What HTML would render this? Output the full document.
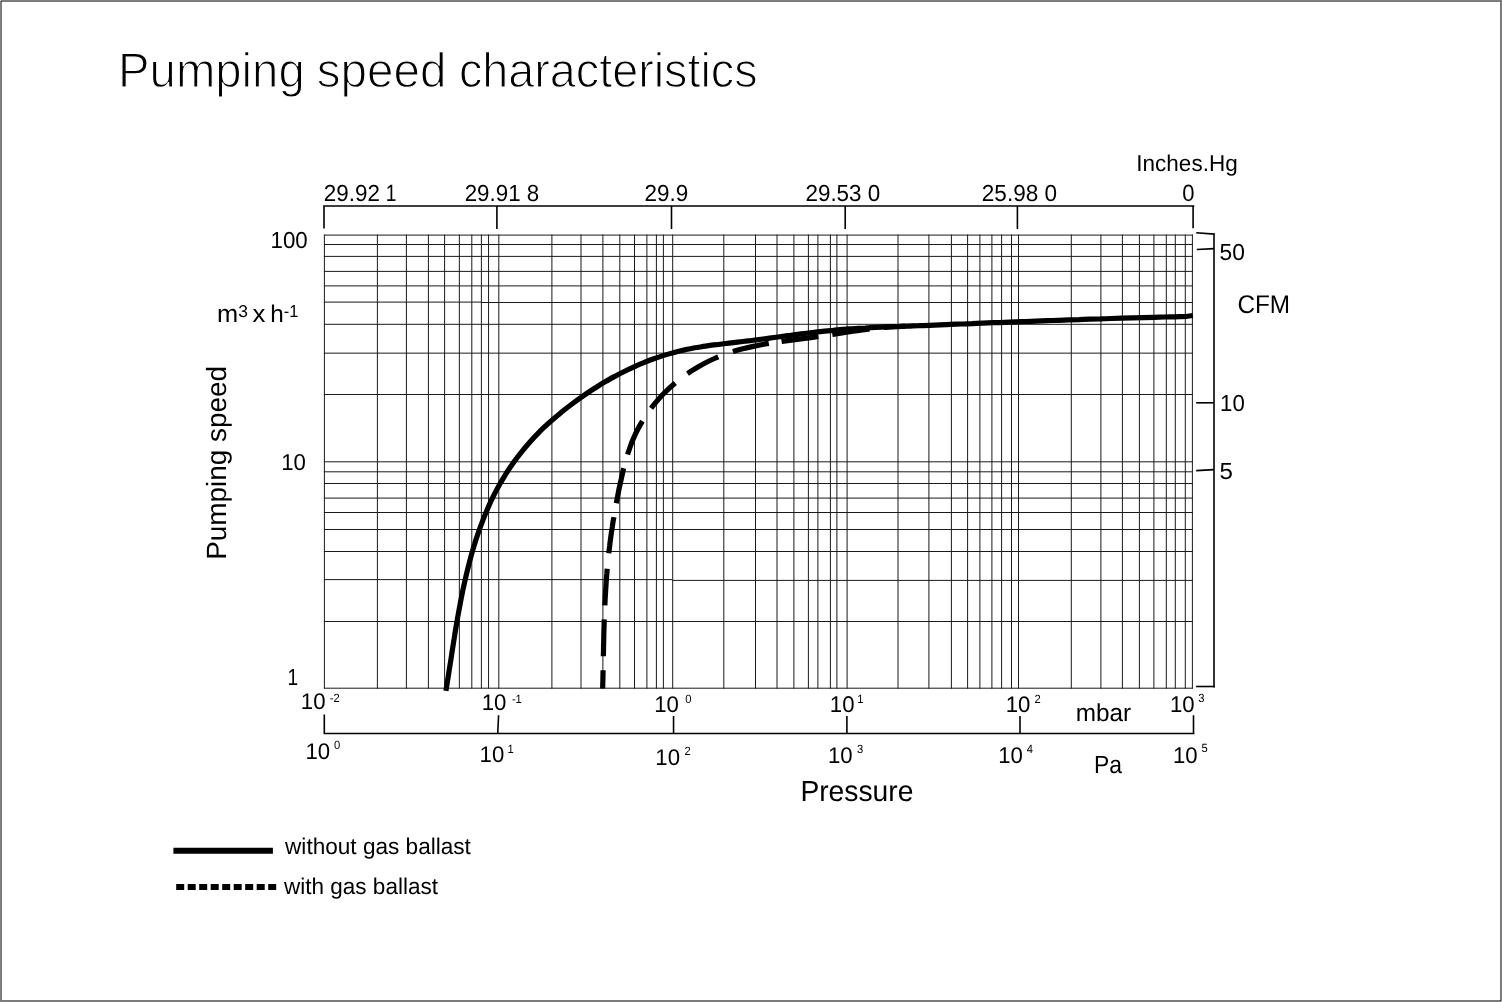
<!DOCTYPE html>
<html lang="en"><head><meta charset="utf-8"><title>Pumping speed characteristics</title>
<style>
html,body{margin:0;padding:0;background:#fff;}
body{width:1502px;height:1002px;overflow:hidden;}
svg{display:block;}
text{font-family:"Liberation Sans",sans-serif;fill:#000;text-rendering:geometricPrecision;}
.g line{stroke:#1a1a1a;stroke-width:1;}
.ax{stroke:#000;stroke-width:1.6;fill:none;}
</style></head><body>
<svg width="1502" height="1002" viewBox="0 0 1502 1002">
<rect x="0" y="0" width="1502" height="1002" fill="#fff"/>
<rect x="0.5" y="0.5" width="1501" height="1001" fill="none" stroke="#808080" stroke-width="1"/>
<rect x="1.5" y="1.5" width="1499" height="999" fill="none" stroke="#797979" stroke-width="1"/>
<rect x="0" y="0" width="1" height="1" fill="#d0d0d0"/><rect x="1" y="1" width="1" height="1" fill="#404040"/>
<rect x="1501" y="1001" width="1" height="1" fill="#d0d0d0"/><rect x="1500" y="1000" width="1" height="1" fill="#404040"/>

<g class="g">
<line x1="324.40" y1="234.60" x2="324.40" y2="688.70"/>
<line x1="377.40" y1="234.60" x2="377.40" y2="688.70"/>
<line x1="406.40" y1="234.60" x2="406.40" y2="688.70"/>
<line x1="428.40" y1="234.60" x2="428.40" y2="688.70"/>
<line x1="444.60" y1="234.60" x2="444.60" y2="688.70"/>
<line x1="459.35" y1="234.60" x2="459.35" y2="688.70"/>
<line x1="471.80" y1="234.60" x2="471.80" y2="688.70"/>
<line x1="481.40" y1="234.60" x2="481.40" y2="688.70"/>
<line x1="488.55" y1="234.60" x2="488.55" y2="688.70"/>
<line x1="498.80" y1="234.60" x2="498.80" y2="688.70"/>
<line x1="551.90" y1="234.60" x2="551.90" y2="688.70"/>
<line x1="581.00" y1="234.60" x2="581.00" y2="688.70"/>
<line x1="602.90" y1="234.60" x2="602.90" y2="688.70"/>
<line x1="619.80" y1="234.60" x2="619.80" y2="688.70"/>
<line x1="634.50" y1="234.60" x2="634.50" y2="688.70"/>
<line x1="646.90" y1="234.60" x2="646.90" y2="688.70"/>
<line x1="656.40" y1="234.60" x2="656.40" y2="688.70"/>
<line x1="663.40" y1="234.60" x2="663.40" y2="688.70"/>
<line x1="672.70" y1="234.60" x2="672.70" y2="688.70"/>
<line x1="723.80" y1="234.60" x2="723.80" y2="688.70"/>
<line x1="755.50" y1="234.60" x2="755.50" y2="688.70"/>
<line x1="777.00" y1="234.60" x2="777.00" y2="688.70"/>
<line x1="793.90" y1="234.60" x2="793.90" y2="688.70"/>
<line x1="808.40" y1="234.60" x2="808.40" y2="688.70"/>
<line x1="817.90" y1="234.60" x2="817.90" y2="688.70"/>
<line x1="830.40" y1="234.60" x2="830.40" y2="688.70"/>
<line x1="836.90" y1="234.60" x2="836.90" y2="688.70"/>
<line x1="847.10" y1="234.60" x2="847.10" y2="688.70"/>
<line x1="898.00" y1="234.60" x2="898.00" y2="688.70"/>
<line x1="928.90" y1="234.60" x2="928.90" y2="688.70"/>
<line x1="951.40" y1="234.60" x2="951.40" y2="688.70"/>
<line x1="967.60" y1="234.60" x2="967.60" y2="688.70"/>
<line x1="979.90" y1="234.60" x2="979.90" y2="688.70"/>
<line x1="991.90" y1="234.60" x2="991.90" y2="688.70"/>
<line x1="1001.60" y1="234.60" x2="1001.60" y2="688.70"/>
<line x1="1011.50" y1="234.60" x2="1011.50" y2="688.70"/>
<line x1="1018.50" y1="234.60" x2="1018.50" y2="688.70"/>
<line x1="1071.30" y1="234.60" x2="1071.30" y2="688.70"/>
<line x1="1100.90" y1="234.60" x2="1100.90" y2="688.70"/>
<line x1="1122.40" y1="234.60" x2="1122.40" y2="688.70"/>
<line x1="1139.40" y1="234.60" x2="1139.40" y2="688.70"/>
<line x1="1153.90" y1="234.60" x2="1153.90" y2="688.70"/>
<line x1="1166.30" y1="234.60" x2="1166.30" y2="688.70"/>
<line x1="1175.30" y1="234.60" x2="1175.30" y2="688.70"/>
<line x1="1185.30" y1="234.60" x2="1185.30" y2="688.70"/>
<line x1="1192.40" y1="234.60" x2="1192.40" y2="688.70"/>
<line x1="323.90" y1="235.10" x2="1192.90" y2="235.10"/>
<line x1="323.90" y1="244.50" x2="1192.90" y2="244.50"/>
<line x1="323.90" y1="256.40" x2="1192.90" y2="256.40"/>
<line x1="323.90" y1="271.40" x2="1192.90" y2="271.40"/>
<line x1="323.90" y1="285.90" x2="1192.90" y2="285.90"/>
<line x1="323.90" y1="324.30" x2="1192.90" y2="324.30"/>
<line x1="323.90" y1="353.15" x2="1192.90" y2="353.15"/>
<line x1="323.90" y1="394.50" x2="1192.90" y2="394.50"/>
<line x1="323.90" y1="461.80" x2="1192.90" y2="461.80"/>
<line x1="323.90" y1="471.80" x2="1192.90" y2="471.80"/>
<line x1="323.90" y1="483.50" x2="1192.90" y2="483.50"/>
<line x1="323.90" y1="498.10" x2="1192.90" y2="498.10"/>
<line x1="323.90" y1="512.50" x2="1192.90" y2="512.50"/>
<line x1="323.90" y1="529.50" x2="1192.90" y2="529.50"/>
<line x1="323.90" y1="551.50" x2="1192.90" y2="551.50"/>
<line x1="323.90" y1="621.50" x2="1192.90" y2="621.50"/>
<line x1="323.90" y1="688.20" x2="1192.90" y2="688.20"/>
<line x1="323.9" y1="302.1" x2="481" y2="302.1"/><line x1="481" y1="302.5" x2="1192.9" y2="302.5"/>
<line x1="323.9" y1="579.6" x2="672" y2="579.6"/><line x1="672" y1="580.4" x2="1192.9" y2="580.4"/>
</g>
<path class="ax" d="M324.0 228.6V206.0H1193.1V228.2M1193.1 206.0h1.2"/>
<path class="ax" d="M496.9 206.0V229"/>
<path class="ax" d="M671.5 206.0V229"/>
<path class="ax" d="M845.2 206.0V229"/>
<path class="ax" d="M1017.4 206.0V229"/>
<path class="ax" d="M324.3 714.4V733.5H1193.5V715.2M1193.5 733.5h1"/>
<path class="ax" d="M498.6 715.2L497.7 733.5"/>
<path class="ax" d="M673.55 716V733.5"/>
<path class="ax" d="M846.9 716V733.5"/>
<path class="ax" d="M1020.0 716V733.5"/>
<path class="ax" stroke-width="1.9" d="M1196.2 232.8L1214.4 234.1"/>
<path class="ax" stroke-width="2" d="M1214.0 233.3V687.4"/>
<path class="ax" stroke-width="1.9" d="M1196.1 686.5H1215.0"/>
<path class="ax" d="M1196.8 249.5L1214.0 248.6"/>
<path class="ax" d="M1196.2 402.8H1214.0"/>
<path class="ax" d="M1196.2 470.6L1214.0 469.6"/>
<path id="dash" d="M602.7 688.6C602.7 687.0 602.8 682.2 602.9 679.1C603.0 675.9 603.0 672.7 603.1 669.5C603.1 666.3 603.2 663.2 603.3 660.0C603.3 656.8 603.4 653.6 603.5 650.4C603.5 647.2 603.6 644.0 603.7 640.8C603.8 637.7 603.8 634.5 603.9 631.3C604.0 628.1 604.1 624.9 604.2 621.7C604.3 618.5 604.4 615.3 604.6 612.2C604.7 609.0 604.8 605.8 605.0 602.6C605.1 599.4 605.3 596.3 605.5 593.1C605.7 589.9 605.9 586.7 606.1 583.5C606.3 580.4 606.5 577.2 606.8 574.0C607.0 570.9 607.3 567.7 607.6 564.5C607.9 561.4 608.2 558.2 608.6 555.1C608.9 551.9 609.3 548.8 609.7 545.6C610.0 542.5 610.5 539.3 610.9 536.2C611.3 533.1 611.8 529.9 612.3 526.8C612.7 523.6 613.2 520.5 613.8 517.4C614.3 514.2 614.8 511.1 615.4 508.0C616.0 504.8 616.6 501.7 617.2 498.5C617.8 495.4 618.4 492.3 619.0 489.1C619.7 486.0 620.4 482.8 621.1 479.7C621.8 476.5 622.5 473.4 623.2 470.2C624.0 467.1 624.8 464.0 625.7 460.9C626.6 457.8 627.5 454.7 628.5 451.7C629.5 448.6 630.6 445.6 631.7 442.6C632.9 439.7 634.2 436.8 635.5 433.9C636.9 431.0 638.3 428.2 639.9 425.4C641.4 422.7 643.0 420.0 644.8 417.3C646.5 414.7 648.3 412.1 650.2 409.5C652.0 407.0 654.0 404.5 656.0 402.1C658.1 399.7 660.2 397.3 662.3 395.0C664.5 392.7 666.8 390.5 669.1 388.3C671.4 386.2 673.8 384.1 676.2 382.1C678.6 380.1 681.2 378.1 683.7 376.2C686.3 374.4 688.9 372.6 691.5 370.9C694.2 369.1 696.9 367.5 699.7 365.9C702.4 364.4 705.2 362.9 708.1 361.5C710.9 360.1 713.8 358.8 716.7 357.5C719.6 356.3 722.6 355.2 725.6 354.1C728.6 353.0 731.6 352.0 734.6 351.1C737.7 350.2 740.7 349.4 743.8 348.6C746.9 347.8 750.0 347.1 753.2 346.4C756.3 345.7 759.5 345.1 762.6 344.5C765.8 343.9 769.0 343.4 772.2 342.9C775.3 342.3 778.5 341.9 781.7 341.4C784.9 340.9 788.1 340.5 791.3 340.1C794.5 339.6 797.7 339.2 800.9 338.8C804.1 338.4 807.3 338.0 810.5 337.6C813.6 337.1 816.8 336.7 820.0 336.2C823.1 335.8 826.2 335.3 829.4 334.9C832.5 334.4 835.6 333.9 838.7 333.4C841.8 332.9 845.0 332.5 848.1 332.0C851.2 331.5 854.3 331.1 857.4 330.6C860.5 330.2 863.6 329.7 866.7 329.3C869.9 328.9 873.0 328.5 876.1 328.2C879.3 327.9 882.5 327.5 885.6 327.3C888.8 327.0 892.0 326.8 895.2 326.6C898.5 326.4 903.4 326.3 905.0 326.2" fill="none" stroke="#000" stroke-width="5.2" stroke-dasharray="18.3 14.1 36.8 14.1 36.7 15.5 36.6 14.1 35.7 14.3 36.7 15.4 35.1 15.4 35.1 15.5 36.9 12.9 37.1 14.1 37.7 14.1 21.5 1000.0"/>
<path id="solid" d="M445.9 690.9C446.2 689.1 447.1 684.0 447.6 680.5C448.2 677.0 448.7 673.6 449.2 670.1C449.8 666.6 450.3 663.1 450.9 659.6C451.4 656.1 452.0 652.5 452.5 649.0C453.1 645.5 453.6 642.0 454.2 638.4C454.7 634.9 455.3 631.3 455.9 627.8C456.5 624.3 457.1 620.7 457.7 617.2C458.4 613.6 459.0 610.1 459.7 606.6C460.3 603.0 461.0 599.5 461.7 596.0C462.4 592.4 463.1 588.9 463.9 585.4C464.7 581.9 465.5 578.4 466.3 574.9C467.1 571.4 468.0 567.9 468.9 564.4C469.7 561.0 470.7 557.5 471.6 554.1C472.6 550.6 473.6 547.2 474.7 543.8C475.7 540.4 476.8 537.0 478.0 533.6C479.1 530.3 480.3 526.9 481.6 523.6C482.8 520.3 484.1 517.0 485.5 513.7C486.9 510.4 488.3 507.2 489.7 503.9C491.2 500.7 492.7 497.5 494.3 494.4C495.9 491.2 497.6 488.1 499.3 485.0C501.1 481.9 502.9 478.8 504.7 475.8C506.6 472.8 508.5 469.8 510.5 466.8C512.6 463.8 514.6 460.9 516.8 458.1C518.9 455.2 521.2 452.4 523.4 449.6C525.7 446.8 528.0 444.1 530.4 441.4C532.8 438.7 535.3 436.1 537.8 433.6C540.3 431.0 542.8 428.6 545.4 426.1C548.0 423.7 550.7 421.3 553.4 419.0C556.1 416.6 558.8 414.4 561.6 412.1C564.3 409.9 567.1 407.7 570.0 405.5C572.8 403.4 575.7 401.2 578.6 399.1C581.5 397.1 584.4 395.0 587.3 393.0C590.3 391.0 593.3 389.1 596.3 387.2C599.3 385.3 602.4 383.4 605.5 381.6C608.6 379.8 611.7 378.1 614.8 376.4C617.9 374.7 621.1 373.1 624.3 371.5C627.5 369.9 630.7 368.4 634.0 366.9C637.2 365.4 640.5 364.0 643.8 362.7C647.1 361.3 650.4 360.0 653.8 358.8C657.1 357.6 660.5 356.5 663.9 355.4C667.3 354.3 670.7 353.3 674.2 352.4C677.6 351.5 681.1 350.7 684.5 349.9C688.0 349.1 691.5 348.5 695.0 347.8C698.5 347.2 702.1 346.7 705.6 346.1C709.1 345.6 712.7 345.1 716.2 344.7C719.7 344.2 723.3 343.8 726.8 343.4C730.4 342.9 733.9 342.5 737.5 342.1C741.0 341.7 744.6 341.3 748.1 340.9C751.7 340.5 755.2 340.0 758.8 339.6C762.3 339.2 765.8 338.7 769.4 338.2C772.9 337.8 776.5 337.3 780.0 336.8C783.5 336.3 787.1 335.8 790.6 335.4C794.1 334.9 797.7 334.4 801.2 333.9C804.7 333.5 808.3 333.0 811.8 332.6C815.4 332.2 818.9 331.7 822.4 331.3C826.0 331.0 829.5 330.6 833.1 330.3C836.6 329.9 840.2 329.6 843.7 329.3C847.3 329.1 850.8 328.8 854.4 328.6C858.0 328.4 861.5 328.1 865.1 328.0C868.7 327.8 872.2 327.6 875.8 327.4C879.4 327.2 882.9 327.1 886.5 326.9C890.1 326.8 893.6 326.7 897.2 326.5C900.8 326.4 904.3 326.2 907.9 326.1C911.5 326.0 915.0 325.8 918.6 325.7C922.2 325.5 925.7 325.4 929.3 325.3C932.9 325.1 936.4 325.0 940.0 324.8C943.6 324.7 947.1 324.6 950.7 324.4C954.3 324.3 957.8 324.1 961.4 324.0C965.0 323.9 968.5 323.7 972.1 323.6C975.7 323.4 979.2 323.3 982.8 323.2C986.4 323.0 989.9 322.9 993.5 322.7C997.1 322.6 1000.6 322.5 1004.2 322.3C1007.8 322.2 1011.3 322.0 1014.9 321.9C1018.5 321.8 1022.0 321.6 1025.6 321.5C1029.2 321.4 1032.7 321.2 1036.3 321.1C1039.8 321.0 1043.4 320.8 1047.0 320.7C1050.5 320.6 1054.1 320.4 1057.7 320.3C1061.2 320.2 1064.8 320.1 1068.4 319.9C1071.9 319.8 1075.5 319.7 1079.1 319.6C1082.6 319.4 1086.2 319.3 1089.8 319.2C1093.3 319.1 1096.9 319.0 1100.5 318.9C1104.0 318.7 1107.6 318.6 1111.2 318.5C1114.7 318.4 1118.3 318.3 1121.9 318.2C1125.4 318.1 1129.0 318.0 1132.6 317.9C1136.1 317.8 1139.7 317.7 1143.3 317.6C1146.8 317.5 1150.4 317.4 1154.0 317.3C1157.6 317.2 1161.1 317.1 1164.7 317.0C1168.3 316.9 1171.8 316.9 1175.4 316.8C1179.0 316.7 1184.3 316.6 1186.1 316.5L1192.8 315.5" fill="none" stroke="#000" stroke-width="5.2"/>
<g>
<text font-size="47.3" transform="translate(118.07 87.00) scale(0.9998 1.0300)" stroke="#fff" stroke-width="1.2">Pumping </text>
<text font-size="47.3" transform="translate(316.76 87.00) scale(1.0054 1.0300)" stroke="#fff" stroke-width="1.2">speed </text>
<text font-size="47.3" transform="translate(458.93 87.00) scale(0.9880 1.0300)" stroke="#fff" stroke-width="1.2">characteristics</text>
</g>
<g>
<text font-size="22.5" transform="translate(323.70 201.00) scale(0.9975 1.0352)">29.92 </text>
<text font-size="22.5" transform="translate(385.67 201.00) scale(0.8500 1.0556)">1</text>
</g>
<text font-size="22.5" transform="translate(464.67 201.00) scale(0.9933 1.0343)">29.91 8</text>
<text font-size="22.5" transform="translate(644.40 201.00) scale(0.9989 1.0364)">29.9</text>
<text font-size="22.5" transform="translate(805.43 201.00) scale(0.9973 1.0339)">29.53 0</text>
<text font-size="22.5" transform="translate(981.78 201.00) scale(1.0029 1.0349)">25.98 0</text>
<text font-size="22.5" transform="translate(1182.17 201.00) scale(0.9784 1.0463)">0</text>
<text font-size="22.5" transform="translate(1136.32 171.00) scale(1.0003 1.0200)">Inches.Hg</text>
<text font-size="22.5" transform="translate(1219.49 260.00) scale(1.0119 1.0295)">50</text>
<text font-size="22.5" transform="translate(1220.11 411.00) scale(0.9850 1.0277)">10</text>
<text font-size="22.5" transform="translate(1219.44 479.00) scale(1.0729 1.0305)">5</text>
<text font-size="24" transform="translate(1237.42 313.00) scale(1.0137 1.0670)">CFM</text>
<text font-size="22.5" transform="translate(270.51 248.00) scale(0.9900 1.0283)">100</text>
<text font-size="22.5" transform="translate(281.13 470.00) scale(0.9850 1.0264)">10</text>
<text font-size="22.5" transform="translate(287.43 685.00) scale(0.8500 1.0399)">1</text>
<g>
<text font-size="24.5" transform="translate(217.05 322.00) scale(1.0363 0.9988)">m</text>
<text font-size="17" transform="translate(238.28 317.00) scale(1.0281 1.0023)">3 </text>
<text font-size="24.5" transform="translate(252.56 322.00) scale(1.0530 1.0113)">x </text>
<text font-size="24.5" transform="translate(270.31 322.00) scale(0.9935 0.9887)">h</text>
<text font-size="17" transform="translate(283.69 317.00) scale(0.9700 1.0294)">-1</text>
</g>
<text font-size="28.3" transform="translate(800.38 801.00) scale(0.9979 1.0306)">Pressure</text>
<text font-size="22.5" transform="translate(285.06 854.00) scale(1.0039 1.0100)">without gas ballast</text>
<text font-size="22.5" transform="translate(284.00 894.00) scale(1.0009 1.0100)">with gas ballast</text>
<text font-size="24.5" transform="translate(1075.76 721.00) scale(0.9927 1.0000)">mbar</text>
<text font-size="24" transform="translate(1093.97 773.00) scale(0.9553 1.0361)">Pa</text>
<text font-size="28" transform="translate(225.89 559.86) rotate(-90) scale(0.9969 0.9936)">Pumping speed</text>
<g>
<text font-size="22.5" transform="translate(300.85 709.00) scale(0.9850 1.0084)">10</text>
<text font-size="11.2" transform="translate(329.65 702.00) scale(1.0000 1.0600)">-2</text>
</g>
<g>
<text font-size="22.5" transform="translate(481.77 710.00) scale(0.9850 1.0031)">10</text>
<text font-size="11.2" transform="translate(511.89 703.00) scale(1.0000 1.0600)">-1</text>
</g>
<g>
<text font-size="22.5" transform="translate(654.13 712.00) scale(0.9850 1.0108)">10</text>
<text font-size="11.2" transform="translate(685.31 703.00) scale(1.0000 1.0600)">0</text>
</g>
<g>
<text font-size="22.5" transform="translate(829.80 712.00) scale(0.9850 1.0120)">10</text>
<text font-size="11.2" transform="translate(857.32 703.00) scale(1.0000 1.0600)">1</text>
</g>
<g>
<text font-size="22.5" transform="translate(1005.69 712.00) scale(0.9850 1.0014)">10</text>
<text font-size="11.2" transform="translate(1034.43 703.00) scale(1.0000 1.0600)">2</text>
</g>
<g>
<text font-size="22.5" transform="translate(1170.00 712.00) scale(0.9850 1.0112)">10</text>
<text font-size="11.2" transform="translate(1198.30 702.00) scale(1.0000 1.0600)">3</text>
</g>
<g>
<text font-size="22.5" transform="translate(305.43 759.00) scale(0.9850 1.0053)">10</text>
<text font-size="11.2" transform="translate(334.08 749.00) scale(1.0000 1.0600)">0</text>
</g>
<g>
<text font-size="22.5" transform="translate(479.59 762.00) scale(0.9850 1.0079)">10</text>
<text font-size="11.2" transform="translate(507.51 753.00) scale(1.0000 1.0600)">1</text>
</g>
<g>
<text font-size="22.5" transform="translate(655.37 765.00) scale(0.9850 1.0096)">10</text>
<text font-size="11.2" transform="translate(684.61 755.00) scale(1.0000 1.0600)">2</text>
</g>
<g>
<text font-size="22.5" transform="translate(828.04 763.00) scale(0.9850 1.0086)">10</text>
<text font-size="11.2" transform="translate(856.96 753.00) scale(1.0000 1.0600)">3</text>
</g>
<g>
<text font-size="22.5" transform="translate(998.22 763.00) scale(0.9850 1.0108)">10</text>
<text font-size="11.2" transform="translate(1026.80 753.00) scale(1.0000 1.0600)">4</text>
</g>
<g>
<text font-size="22.5" transform="translate(1172.96 763.00) scale(0.9850 1.0111)">10</text>
<text font-size="11.2" transform="translate(1201.40 752.00) scale(1.0000 1.0600)">5</text>
</g>
<path d="M173.4 850.8H272.9" stroke="#000" stroke-width="6" fill="none"/>
<path d="M176.2 887.05H276.2" stroke="#000" stroke-width="5.9" fill="none" stroke-dasharray="8 3.5"/>
</svg>
</body></html>
